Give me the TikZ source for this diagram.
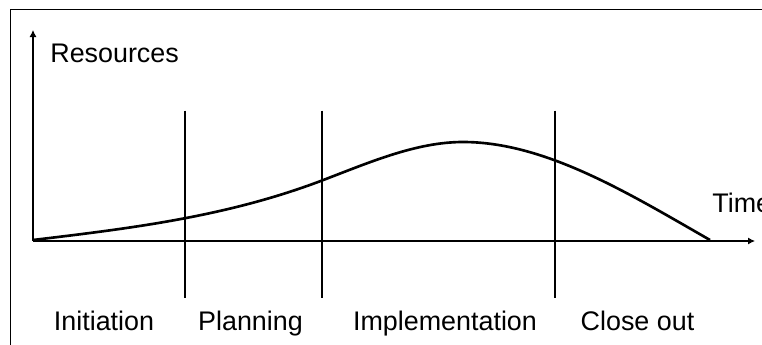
\documentclass[tikz,border=0pt]{standalone}
\usepackage{fontspec}
\setmainfont{Liberation Sans}
\usepackage{tikz}
\usetikzlibrary{arrows.meta, positioning, calc}

\tikzset{
  axisline/.style={line width=0.6pt, -{Latex[length=0.14cm, width=0.14cm]}},
  phaseline/.style={line width=0.6pt},
  phaselabel/.style={anchor=base, inner sep=0pt, font=\fontsize{15.3}{18}\selectfont},
  resourcecurve/.style={line width=1.5pt}
}

\begin{document}
\begin{tikzpicture}[x=0.02cm, y=-0.02cm]
  \useasboundingbox (0, 0) rectangle (762, 345);
  % frame
  \draw[line width=0.9pt] (10.5, 345) -- (10.5, 9.5) -- (762, 9.5);

  % axes
  \coordinate (origin) at (33, 241);
  \coordinate (ytip) at (33, 30);
  \coordinate (xtip) at (755, 241);
  \draw[axisline] (origin) -- (ytip);
  \draw[axisline] (origin) -- (xtip);
  \node[phaselabel, anchor=base west] (resources) at (50, 62) {Resources};
  \node[phaselabel, anchor=base west] (time) at (712, 212) {Time};

  % phase boundaries
  \foreach \name/\x in {planstart/185, implstart/322, closestart/555} {
    \coordinate (\name top) at (\x, 110.5);
    \coordinate (\name bottom) at (\x, 298);
    \draw[phaseline] (\name top) -- (\name bottom);
  }

  % resource curve
  \coordinate (start) at (33, 240);
  \coordinate (rise) at (322, 180.5);
  \coordinate (peak) at (463, 142);
  \coordinate (finish) at (710, 240);
  \draw[resourcecurve] (start) .. controls (129, 228.5) and (226, 217) .. (rise)
    .. controls (369, 162.6) and (416, 142) .. (peak)
    .. controls (545, 142) and (628, 193) .. (finish);

  % phase names
  \node[phaselabel] (initiation) at (104, 330) {Initiation};
  \node[phaselabel] (planning) at (250.5, 330) {Planning};
  \node[phaselabel] (implementation) at (445, 330) {Implementation};
  \node[phaselabel] (closeout) at (637.5, 330) {Close out};
\end{tikzpicture}
\end{document}
